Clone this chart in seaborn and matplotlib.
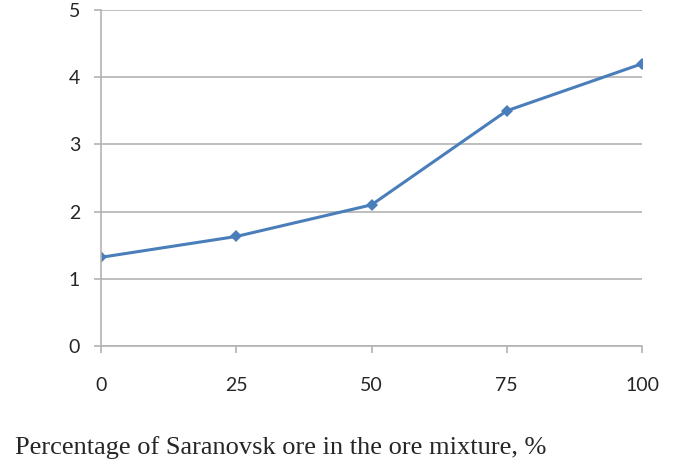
import seaborn as sns
import matplotlib.pyplot as plt
import pandas as pd

# Data
share = [0, 25, 50, 75, 100]
value = [1.32, 1.63, 2.1, 3.5, 4.2]
x_label = "Percentage of Saranovsk ore in the ore mixture, %"

df = pd.DataFrame({"share": share, "value": value})

sns.set_style("white")
plt.rcParams['font.family'] = ['Lato', 'DejaVu Sans']

fig = plt.figure(figsize=(6.73, 4.61), dpi=100)
ax = fig.add_axes([101/673, 1 - 346/461, (642 - 101)/673, (346 - 10)/461])

sns.lineplot(data=df, x="share", y="value", ax=ax, color="#4a7ebb",
             linewidth=2.2, marker="D", markersize=6, markeredgewidth=0)

ax.set_xlim(0, 100)
ax.set_ylim(0, 5)
ax.set_xticks(share)
ax.set_yticks(range(6))
ax.grid(axis="y", color="#b3b3b3", linewidth=1.2)
ax.set_axisbelow(True)
for s in ["top", "right", "bottom"]:
    ax.spines[s].set_visible(False)
ax.spines["left"].set_color("#b3b3b3")
ax.spines["left"].set_linewidth(1.2)
ax.tick_params(axis="x", direction="out", length=5, width=1.2, color="#b3b3b3",
               pad=17, labelsize=14, bottom=True)
ax.tick_params(axis="y", direction="out", length=5, width=1.2, color="#b3b3b3",
               pad=10, labelsize=14, left=True)
ax.set_xlabel("")
ax.set_ylabel("")
# the baseline gridline at 0 sits on top
ax.axhline(0, color="#b3b3b3", linewidth=1.2, clip_on=False)

fig.text(15/673, 1 - 448/461, x_label, family="Liberation Serif",
         fontsize=19, ha="left", va="center")

fig.savefig("out.png", dpi=100)
